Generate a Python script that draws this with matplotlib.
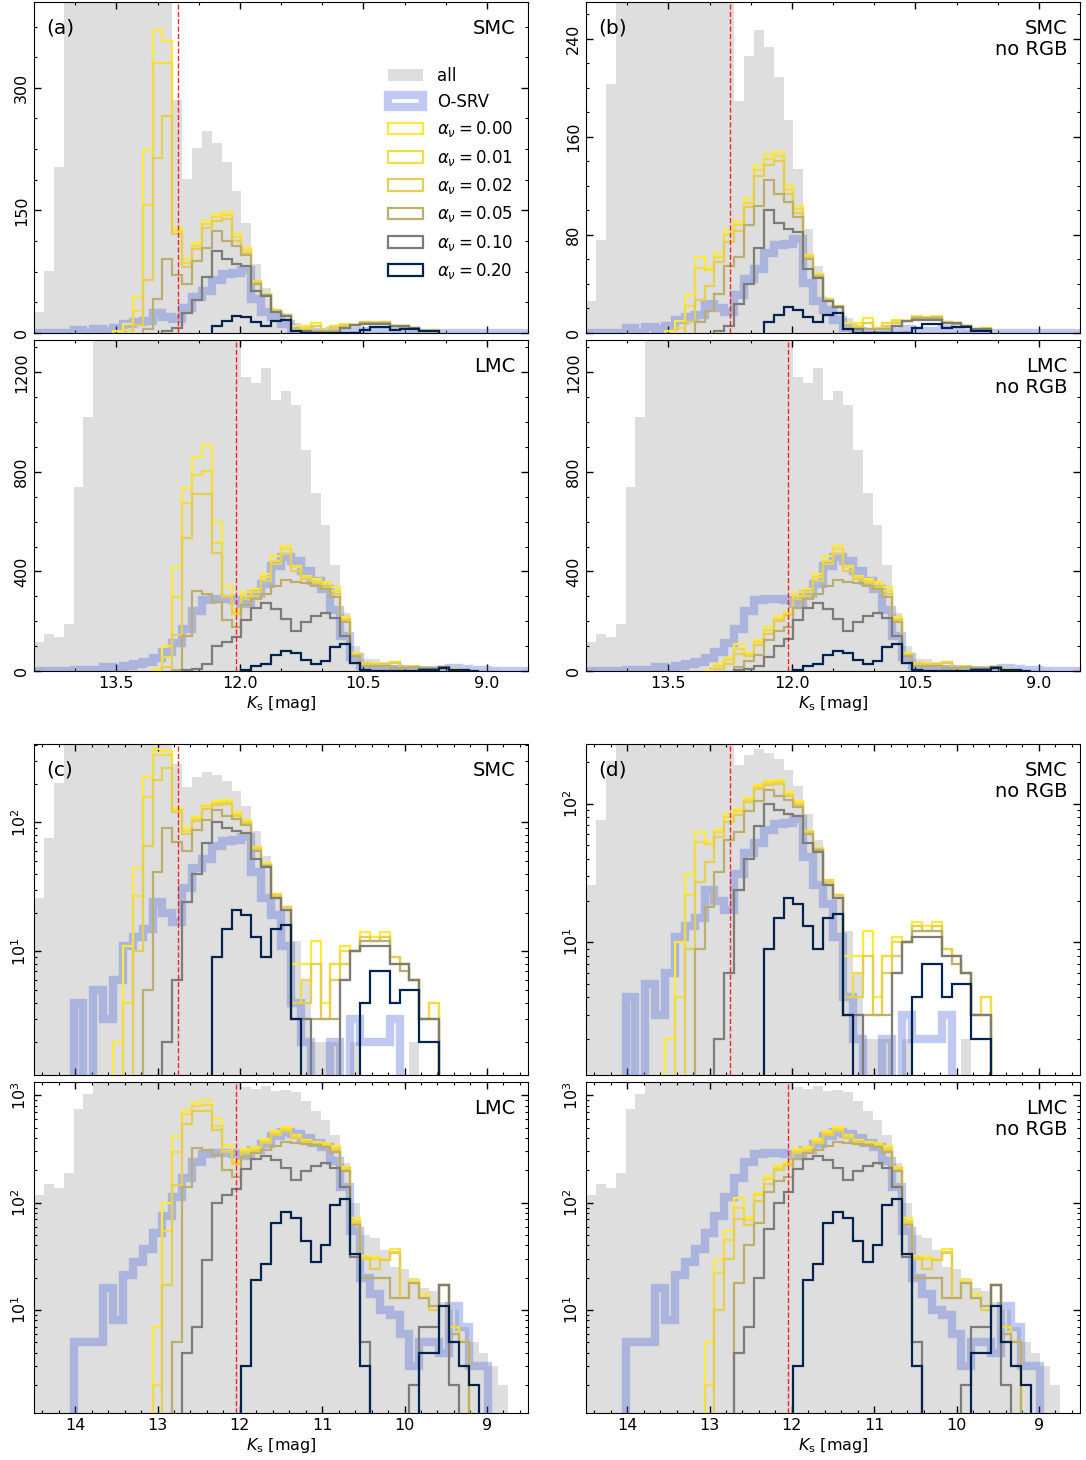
import numpy as np
import matplotlib.pyplot as plt
from matplotlib.patches import Patch
from matplotlib.ticker import MultipleLocator, LogLocator, NullFormatter

# 0.12 mag bins, from K_s = 14.5 (faint, left) to 8.5 (bright, right)
edges = 14.5 - 0.12 * np.arange(51)

alphas = [0.00, 0.01, 0.02, 0.05, 0.10, 0.20]
trgb = {'SMC': 12.75, 'LMC': 12.05}

# ---- SMC ----
smc_all = [26, 76, 203, 480, 640, 760, 850, 900, 920, 900,
           850, 780, 680, 540, 285, 189, 226, 247, 233, 209,
           174, 134, 85, 55, 28, 22, 12, 6, 2, 2,
           2, 1, 2, 1, 1, 1, 1, 1, 2, 0,
           0, 0, 0, 0, 0, 0, 0, 0, 0, 0]
smc_osrv = [0, 0, 0, 0, 4, 0, 5, 3, 6, 11,
            13, 15, 24, 20, 17, 31, 44, 52, 65, 72,
            73, 77, 41, 26, 19, 11, 4, 2, 1, 0,
            2, 1, 3, 2, 2, 2, 3, 1, 0, 0,
            0, 0, 0, 0, 0, 0, 0, 0, 0, 0]
smc_a00 = [0, 0, 0, 0, 0, 0, 0, 0, 2, 11,
           44, 224, 371, 357, 129, 91, 110, 137, 146, 148,
           121, 104, 64, 48, 28, 22, 8, 8, 12, 4,
           8, 11, 10, 14, 13, 14, 9, 8, 6, 3,
           4, 0, 0, 0, 0, 0, 0, 0, 0, 0]
smc_a01 = [0, 0, 0, 0, 0, 0, 0, 0, 0, 4,
           27, 157, 330, 330, 125, 86, 106, 133, 142, 144,
           117, 101, 63, 47, 28, 22, 4, 6, 8, 3,
           8, 10, 10, 13, 12, 13, 9, 8, 6, 3,
           4, 0, 0, 0, 0, 0, 0, 0, 0, 0]
smc_a02 = [0, 0, 0, 0, 0, 0, 0, 0, 0, 0,
           10, 65, 214, 266, 121, 81, 103, 128, 137, 140,
           113, 98, 62, 47, 27, 22, 4, 4, 8, 3,
           6, 8, 10, 13, 12, 13, 9, 8, 6, 3,
           3, 0, 0, 0, 0, 0, 0, 0, 0, 0]
smc_a05 = [0, 0, 0, 0, 0, 0, 0, 0, 0, 0,
           0, 5, 41, 91, 71, 60, 88, 104, 125, 113,
           107, 95, 60, 46, 26, 21, 3, 3, 3, 3,
           3, 6, 10, 12, 12, 12, 8, 7, 6, 3,
           3, 0, 0, 0, 0, 0, 0, 0, 0, 0]
smc_a10 = [0, 0, 0, 0, 0, 0, 0, 0, 0, 0,
           0, 0, 0, 2, 6, 24, 40, 69, 100, 90,
           85, 82, 52, 45, 26, 21, 3, 3, 0, 0,
           0, 6, 10, 11, 11, 11, 8, 8, 6, 3,
           3, 0, 0, 0, 0, 0, 0, 0, 0, 0]
smc_a20 = [0, 0, 0, 0, 0, 0, 0, 0, 0, 0,
           0, 0, 0, 0, 0, 0, 0, 0, 9, 15,
           21, 19, 13, 9, 15, 16, 3, 0, 0, 0,
           0, 0, 0, 4, 7, 7, 4, 5, 5, 2,
           2, 0, 0, 0, 0, 0, 0, 0, 0, 0]

# SMC without RGB stars
smcn_a00 = [0, 0, 0, 0, 0, 0, 0, 0, 2, 10,
            31, 62, 53, 65, 84, 91, 110, 137, 146, 148,
            121, 104, 64, 48, 28, 22, 8, 8, 12, 4,
            8, 11, 10, 14, 13, 14, 9, 8, 6, 3,
            4, 0, 0, 0, 0, 0, 0, 0, 0, 0]
smcn_a01 = [0, 0, 0, 0, 0, 0, 0, 0, 0, 4,
            22, 53, 51, 62, 80, 88, 106, 133, 142, 144,
            117, 101, 63, 47, 28, 22, 4, 6, 8, 3,
            8, 10, 10, 13, 12, 13, 9, 8, 6, 3,
            4, 0, 0, 0, 0, 0, 0, 0, 0, 0]
smcn_a02 = [0, 0, 0, 0, 0, 0, 0, 0, 0, 0,
            9, 27, 38, 58, 74, 83, 103, 128, 137, 140,
            113, 98, 62, 47, 27, 22, 4, 4, 8, 3,
            6, 8, 10, 13, 12, 13, 9, 8, 6, 3,
            3, 0, 0, 0, 0, 0, 0, 0, 0, 0]
smcn_a05 = [0, 0, 0, 0, 0, 0, 0, 0, 0, 0,
            0, 9, 18, 32, 55, 62, 88, 104, 125, 113,
            107, 95, 60, 46, 26, 21, 3, 3, 3, 3,
            3, 6, 10, 12, 12, 12, 8, 7, 6, 3,
            3, 0, 0, 0, 0, 0, 0, 0, 0, 0]

# ---- LMC ----
lmc_all = [117, 150, 137, 190, 740, 1020, 1500, 1900, 2300, 2700,
           3000, 3200, 3300, 3200, 3000, 2700, 2400, 2100, 1800, 1600,
           1450, 1183, 1156, 1217, 1090, 1127, 1067, 890, 715, 586,
           427, 233, 100, 50, 47, 36, 25, 24, 20, 16,
           15, 12, 10, 7, 5, 4, 3, 2, 1, 1]
lmc_osrv = [0, 0, 0, 0, 5, 5, 5, 16, 8, 21,
            28, 37, 52, 75, 112, 170, 240, 285, 290, 290,
            285, 270, 310, 350, 420, 460, 440, 400, 360, 330,
            245, 140, 55, 20, 14, 10, 9, 6, 3, 5,
            5, 4, 11, 7, 3, 3, 0, 0, 0, 0]
lmc_a00 = [0, 0, 0, 0, 0, 0, 0, 0, 0, 0,
           0, 0, 7, 100, 416, 734, 858, 908, 598, 343,
           246, 316, 330, 389, 462, 502, 423, 383, 369, 356,
           339, 217, 72, 32, 31, 30, 37, 13, 19, 14,
           11, 17, 7, 5, 0, 0, 0, 0, 0, 0]
lmc_a01 = [0, 0, 0, 0, 0, 0, 0, 0, 0, 0,
           0, 0, 2, 55, 296, 675, 788, 804, 516, 303,
           237, 303, 316, 376, 442, 489, 416, 376, 360, 350,
           323, 210, 68, 31, 30, 29, 35, 13, 18, 13,
           11, 17, 7, 5, 0, 0, 0, 0, 0, 0]
lmc_a02 = [0, 0, 0, 0, 0, 0, 0, 0, 0, 0,
           0, 0, 0, 17, 145, 535, 711, 711, 476, 296,
           230, 290, 300, 360, 430, 470, 403, 369, 352, 336,
           310, 203, 65, 30, 24, 29, 34, 13, 18, 13,
           10, 17, 6, 5, 0, 0, 0, 0, 0, 0]
lmc_a05 = [0, 0, 0, 0, 0, 0, 0, 0, 0, 0,
           0, 0, 0, 0, 5, 141, 323, 311, 276, 203,
           175, 265, 290, 310, 340, 365, 356, 353, 343, 330,
           296, 197, 62, 20, 20, 20, 13, 13, 18, 13,
           11, 17, 6, 5, 0, 0, 0, 0, 0, 0]
lmc_a10 = [0, 0, 0, 0, 0, 0, 0, 0, 0, 0,
           0, 0, 0, 0, 0, 4, 7, 29, 100, 118,
           135, 206, 253, 272, 248, 210, 162, 196, 220, 233,
           212, 139, 31, 5, 0, 0, 0, 0, 2, 7,
           7, 17, 2, 0, 0, 0, 0, 0, 0, 0]
lmc_a20 = [0, 0, 0, 0, 0, 0, 0, 0, 0, 0,
           0, 0, 0, 0, 0, 0, 0, 0, 0, 0,
           0, 3, 19, 27, 65, 82, 72, 44, 28, 40,
           95, 109, 33, 3, 0, 0, 0, 0, 0, 4,
           4, 11, 5, 3, 2, 0, 0, 0, 0, 0]

# LMC without RGB stars
lmcn_a00 = [0, 0, 0, 0, 0, 0, 0, 0, 0, 0,
            0, 0, 5, 29, 54, 110, 74, 123, 176, 219,
            237, 316, 330, 389, 462, 502, 423, 383, 369, 356,
            339, 217, 72, 32, 31, 30, 37, 13, 19, 14,
            11, 17, 7, 5, 0, 0, 0, 0, 0, 0]
lmcn_a01 = [0, 0, 0, 0, 0, 0, 0, 0, 0, 0,
            0, 0, 2, 22, 45, 90, 69, 117, 166, 210,
            230, 303, 316, 376, 442, 489, 416, 376, 360, 350,
            323, 210, 68, 31, 30, 29, 35, 13, 18, 13,
            11, 17, 7, 5, 0, 0, 0, 0, 0, 0]
lmcn_a02 = [0, 0, 0, 0, 0, 0, 0, 0, 0, 0,
            0, 0, 0, 10, 30, 70, 62, 104, 150, 200,
            225, 290, 300, 360, 430, 470, 403, 369, 352, 336,
            310, 203, 65, 30, 24, 29, 34, 13, 18, 13,
            10, 17, 6, 5, 0, 0, 0, 0, 0, 0]
lmcn_a05 = [0, 0, 0, 0, 0, 0, 0, 0, 0, 0,
            0, 0, 0, 0, 0, 18, 40, 64, 125, 160,
            175, 255, 290, 310, 340, 365, 356, 353, 343, 330,
            296, 197, 62, 20, 20, 20, 13, 13, 18, 13,
            11, 17, 6, 5, 0, 0, 0, 0, 0, 0]
lmcn_a10 = [0, 0, 0, 0, 0, 0, 0, 0, 0, 0,
            0, 0, 0, 0, 0, 4, 7, 20, 57, 99,
            127, 206, 253, 272, 248, 210, 162, 196, 220, 233,
            212, 139, 31, 5, 0, 0, 0, 0, 2, 7,
            7, 17, 2, 0, 0, 0, 0, 0, 0, 0]

models = {
    'SMC': [smc_a00, smc_a01, smc_a02, smc_a05, smc_a10, smc_a20],
    'SMCn': [smcn_a00, smcn_a01, smcn_a02, smcn_a05, smc_a10, smc_a20],
    'LMC': [lmc_a00, lmc_a01, lmc_a02, lmc_a05, lmc_a10, lmc_a20],
    'LMCn': [lmcn_a00, lmcn_a01, lmcn_a02, lmcn_a05, lmcn_a10, lmc_a20],
}

cmap = plt.get_cmap('cividis')
colors = [cmap(1 - a / 0.2) for a in alphas]
grey = '#dedede'
osrv_col = (0.3, 0.4, 0.85, 0.35)

W, H = 1086, 1460
def box(x0, y0, x1, y1):
    return [x0 / W, 1 - y1 / H, (x1 - x0) / W, (y1 - y0) / H]

cols = [(34, 528), (586, 1080)]
rows = [(2, 333), (340, 671), (744, 1075), (1082, 1413)]


def draw_panel(ax, key, counts_all, counts_osrv, galaxy, log, ytop, ystep):
    floor = 0.01 if log else 0.0
    e_up = edges[::-1]

    def prep(v):
        v = np.asarray(v, float)[::-1]
        return np.where(v > 0, v, floor) if log else v

    ax.stairs(prep(counts_all), e_up, fill=True, color=grey, lw=0,
              baseline=floor, zorder=1)
    ax.stairs(prep(counts_osrv), e_up, baseline=None, edgecolor=osrv_col,
              lw=6, zorder=2)
    for v, c in zip(models[key], colors):
        v = np.asarray(v, float)
        nz = np.nonzero(v)[0]
        i0, i1 = nz[0], nz[-1] + 1
        seg = v[i0:i1][::-1]
        if log:
            seg = np.where(seg > 0, seg, floor)
        ax.stairs(seg, edges[i0:i1 + 1][::-1], baseline=floor,
                  edgecolor=c, lw=1.6, zorder=3)
    ax.axvline(trgb[galaxy], color='red', ls='--', lw=1, alpha=0.85, zorder=5)

    ax.set_xlim(14.5, 8.5)
    if log:
        ax.set_yscale('log')
        ax.set_ylim(1.1, ytop)
        ax.yaxis.set_major_locator(LogLocator(base=10))
        ax.yaxis.set_minor_locator(LogLocator(base=10, subs=np.arange(2, 10)))
        ax.yaxis.set_minor_formatter(NullFormatter())
        ax.xaxis.set_major_locator(MultipleLocator(1))
        ax.xaxis.set_minor_locator(MultipleLocator(0.2))
    else:
        ax.set_ylim(0, ytop)
        ax.yaxis.set_major_locator(MultipleLocator(ystep))
        ax.yaxis.set_minor_locator(MultipleLocator(ystep / 4))
        ax.xaxis.set_major_locator(MultipleLocator(1.5))
        ax.xaxis.set_minor_locator(MultipleLocator(0.5))
    ax.tick_params(which='both', direction='in', top=True, right=True,
                   labelsize=11.5)
    ax.tick_params(which='major', length=5, width=1)
    ax.tick_params(which='minor', length=2.5, width=0.8)
    for lab in ax.get_yticklabels():
        lab.set_rotation(90)
        lab.set_va('center')


fig = plt.figure(figsize=(W / 100, H / 100), dpi=100)

layout = [
    # row, col, key, galaxy, log, ytop, ystep, letter, region text
    (0, 0, 'SMC', 'SMC', False, 405, 150, '(a)', 'SMC'),
    (0, 1, 'SMCn', 'SMC', False, 270, 80, '(b)', 'SMC\nno RGB'),
    (1, 0, 'LMC', 'LMC', False, 1330, 400, None, 'LMC'),
    (1, 1, 'LMCn', 'LMC', False, 1330, 400, None, 'LMC\nno RGB'),
    (2, 0, 'SMC', 'SMC', True, 405, None, '(c)', 'SMC'),
    (2, 1, 'SMCn', 'SMC', True, 270, None, '(d)', 'SMC\nno RGB'),
    (3, 0, 'LMC', 'LMC', True, 1330, None, None, 'LMC'),
    (3, 1, 'LMCn', 'LMC', True, 1330, None, None, 'LMC\nno RGB'),
]

for r, c, key, gal, log, ytop, ystep, letter, region in layout:
    (x0, x1), (y0, y1) = cols[c], rows[r]
    ax = fig.add_axes(box(x0, y0, x1, y1))
    if gal == 'SMC':
        ca, co = smc_all, smc_osrv
    else:
        ca, co = lmc_all, lmc_osrv
    draw_panel(ax, key, ca, co, gal, log, ytop, ystep)
    if r in (0, 2):
        ax.tick_params(labelbottom=False)
    else:
        ax.set_xlabel(r'$K_{\rm s}$ [mag]', fontsize=11.5, labelpad=2)
    if letter:
        ax.text(0.024, 0.949, letter, transform=ax.transAxes, ha='left',
                va='top', fontsize=14.5)
    ax.text(0.974, 0.949, region, transform=ax.transAxes, ha='right',
            va='top', fontsize=14, linespacing=1.15)

    if r == 0 and c == 0:
        handles = [Patch(facecolor=grey, edgecolor='none', label='all'),
                   Patch(facecolor='none', edgecolor=osrv_col, lw=6,
                         label='O-SRV')]
        for a, col in zip(alphas, colors):
            handles.append(Patch(facecolor='none', edgecolor=col, lw=1.6,
                                 label=r'$\alpha_\nu = %.2f$' % a))
        ax.legend(handles=handles, loc='upper right',
                  bbox_to_anchor=(1.0, 0.85), frameon=False, fontsize=12,
                  handlelength=2.1, borderaxespad=0.5)

fig.savefig('out.png', dpi=100)
